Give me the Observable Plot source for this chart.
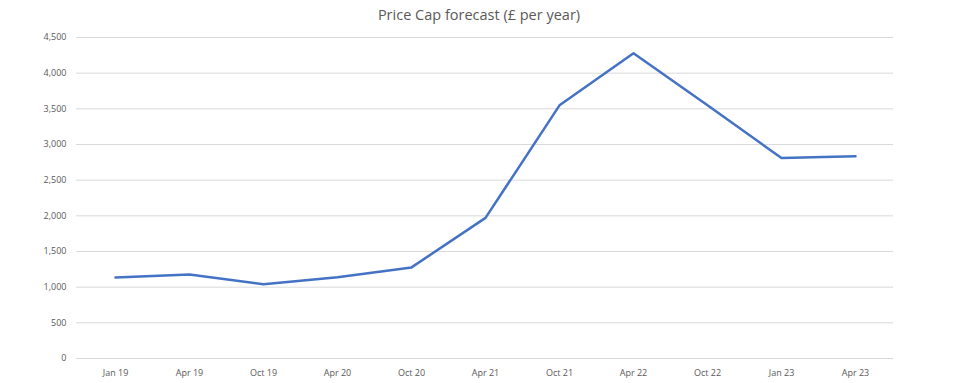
<!DOCTYPE html>
<html>
<head>
<meta charset="utf-8">
<script src="https://cdn.jsdelivr.net/npm/d3@7"></script>
<script src="https://cdn.jsdelivr.net/npm/@observablehq/plot@0.6"></script>
<style>
  html, body { margin: 0; padding: 0; background: #fff; }
  #title { height: 30px; line-height: 30px; text-align: center; font-family: "Open Sans", "Liberation Sans", sans-serif; font-size: 14.5px; color: #595959; }
  #chart svg { display: block; }
</style>
</head>
<body>
<div id="title">Price Cap forecast (£ per year)</div>
<div id="chart"></div>
<script>
const periods = ["Jan 19", "Apr 19", "Oct 19", "Apr 20", "Oct 20", "Apr 21", "Oct 21", "Apr 22", "Oct 22", "Jan 23", "Apr 23"];
const priceCap = [1137, 1179, 1042, 1138, 1277, 1971, 3549, 4279, 3549, 2810, 2835];
const yTicks = [0, 500, 1000, 1500, 2000, 2500, 3000, 3500, 4000, 4500];

const data = periods.map((p, i) => ({period: p, value: priceCap[i]}));

const chart = Plot.plot({
  width: 958,
  height: 353,
  marginTop: 7,
  marginBottom: 25,
  marginLeft: 76,
  marginRight: 65,
  style: { fontFamily: "'Open Sans', 'Liberation Sans', sans-serif", fontSize: "9px", color: "#595959", background: "#fff" },
  x: { type: "point", domain: periods, padding: 0.5, label: null, tickSize: 0, tickPadding: 11 },
  y: { domain: [0, 4500], ticks: yTicks, tickFormat: d3.format(","), label: null, tickSize: 0, tickPadding: 10 },
  marks: [
    Plot.ruleY(yTicks, { stroke: "#d9d9d9", strokeWidth: 1 }),
    Plot.line(data, { x: "period", y: "value", stroke: "#4472C4", strokeWidth: 2.5, strokeLinejoin: "round" })
  ]
});
document.getElementById("chart").appendChild(chart);
</script>
</body>
</html>
